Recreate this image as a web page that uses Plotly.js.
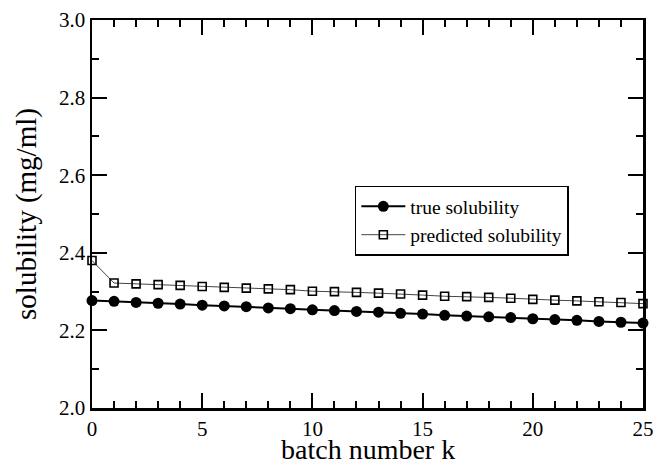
<!DOCTYPE html>
<html>
<head>
<meta charset="utf-8">
<script src="https://cdn.plot.ly/plotly-3.0.1.min.js"></script>
<style>html,body{margin:0;padding:0;background:#fff}#plot{width:655px;height:466px}</style>
</head>
<body>
<div id="plot"></div>
<script>
var batch = [0,1,2,3,4,5,6,7,8,9,10,11,12,13,14,15,16,17,18,19,20,21,22,23,24,25];
var trueSolubility = [2.277,2.275,2.272,2.270,2.268,2.265,2.263,2.261,2.258,2.256,2.253,2.251,2.249,2.247,2.244,2.242,2.239,2.237,2.235,2.233,2.230,2.228,2.226,2.223,2.221,2.219];
var predictedSolubility = [2.380,2.322,2.320,2.318,2.316,2.313,2.311,2.309,2.307,2.305,2.301,2.300,2.298,2.296,2.294,2.291,2.288,2.287,2.285,2.283,2.280,2.278,2.276,2.274,2.272,2.269];
var seriesNames = ["true solubility", "predicted solubility"];
var xTitle = "batch number k";
var yTitle = "solubility (mg/ml)";

var font = "'Liberation Serif', 'Times New Roman', serif";
var traces = [
  {x: batch, y: trueSolubility, name: seriesNames[0], type: "scatter", mode: "lines+markers", cliponaxis: false,
   line: {color: "#000", width: 2}, marker: {symbol: "circle", size: 11, color: "#000"}},
  {x: batch, y: predictedSolubility, name: seriesNames[1], type: "scatter", mode: "lines+markers", cliponaxis: false,
   line: {color: "#444", width: 1}, marker: {symbol: "square-open", size: 8, color: "#000", line: {width: 1.6}}}
];
var axisCommon = {
  showgrid: false, zeroline: false, showline: true, linecolor: "#000", linewidth: 2.5,
  mirror: "ticks", ticks: "inside", ticklen: 15, tickwidth: 2, tickcolor: "#000",
  tickfont: {family: font, size: 21, color: "#000"}
};
var layout = {
  width: 655, height: 466,
  margin: {l: 92, r: 12, t: 20, b: 58},
  paper_bgcolor: "#fff", plot_bgcolor: "#fff",
  font: {family: font, color: "#000"},
  showlegend: true,
  legend: {x: 0.477, y: 0.573, xanchor: "left", yanchor: "top", bordercolor: "#000", borderwidth: 1.5,
           bgcolor: "#fff", font: {family: font, size: 19.5, color: "#000"}, itemwidth: 44},
  xaxis: Object.assign({}, axisCommon, {
    range: [0, 25], dtick: 5, tick0: 0,
    minor: {dtick: 1, ticks: "inside", ticklen: 7, tickwidth: 2, tickcolor: "#000"}
  }),
  yaxis: Object.assign({}, axisCommon, {
    range: [2.0, 3.0], dtick: 0.2, tick0: 2.0, tickformat: ".1f",
    minor: {dtick: 0.1, ticks: "inside", ticklen: 7, tickwidth: 2, tickcolor: "#000"},
    title: {text: yTitle, font: {family: font, size: 29, color: "#000"}, standoff: 14}
  }),
  annotations: [{
    text: xTitle, xref: "paper", yref: "paper", x: 0.5, y: -0.1495,
    xanchor: "center", yanchor: "bottom", showarrow: false, borderpad: 0,
    font: {family: font, size: 28, color: "#000"}
  }]
};
Plotly.newPlot("plot", traces, layout, {displayModeBar: false, staticPlot: true});
</script>
</body>
</html>
